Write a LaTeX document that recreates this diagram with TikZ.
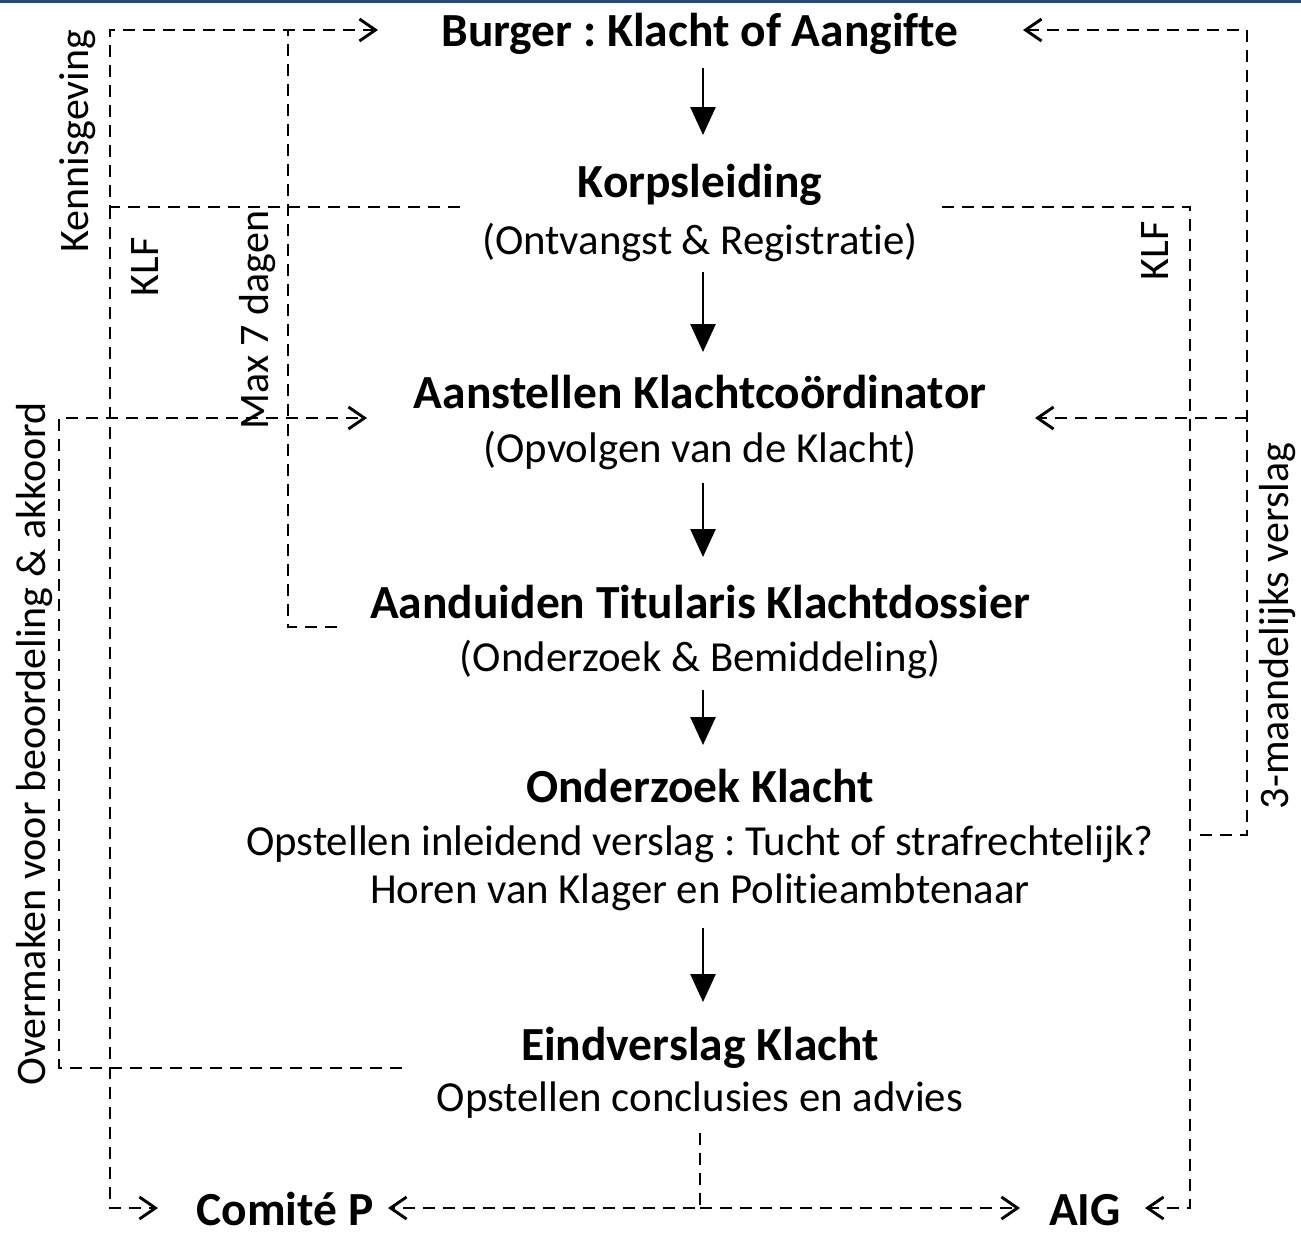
\documentclass[tikz,border=0pt]{standalone}
\usepackage{fontspec}
\setmainfont{Carlito}[Ligatures={NoCommon}]
\usetikzlibrary{arrows.meta}
\definecolor{topbar}{HTML}{2B4A6F}
\frenchspacing

\tikzset{
  title/.style={font=\bfseries\fontsize{47.5}{56}\selectfont, anchor=base, inner sep=0pt},
  sub/.style={font=\fontsize{42.8}{50}\selectfont, anchor=base, inner sep=0pt},
  side/.style={font=\fontsize{42}{50}\selectfont, rotate=90, anchor=base, inner sep=0pt},
  flow/.style={line width=2.7pt, -{Triangle[length=28pt,width=25pt]}},
  link/.style={line width=2.9pt, dash pattern=on 12pt off 8pt},
  tip/.style={-{Straight Barb[length=16pt,width=22pt]}}
}

\begin{document}
\begin{tikzpicture}[x=1pt,y=-1pt]
\useasboundingbox (0,0) rectangle (1301,1232);
\fill[topbar] (0,0) rectangle (1301,3);

% process steps
\node[title] (burger)  at (700,46)   {Burger : Klacht of Aangifte};
\node[title] (korps)   at (700,197)  {Korpsleiding};
\node[sub]   (korpsS)  at (700,254)  {(Ontvangst \& Registratie)};
\node[title] (coord)   at (700,408)  {Aanstellen Klachtcoördinator};
\node[sub]   (coordS)  at (700,462)  {(Opvolgen van de Klacht)};
\node[title] (titul)   at (700,618)  {Aanduiden Titularis Klachtdossier};
\node[sub]   (titulS)  at (700,671)  {(Onderzoek \& Bemiddeling)};
\node[title] (onderz)  at (700,802)  {Onderzoek Klacht};
\node[sub]   (onderzA) at (700,855)  {Opstellen inleidend verslag : Tucht of strafrechtelijk?};
\node[sub]   (onderzB) at (700,903)  {Horen van Klager en Politieambtenaar};
\node[title] (eind)    at (700,1060) {Eindverslag Klacht};
\node[sub]   (eindS)   at (700,1111) {Opstellen conclusies en advies};
\node[title] (comite)  at (285,1225) {Comité P};
\node[title] (aig)     at (1085,1225) {AIG};

% main flow
\draw[flow] ([shift={(3pt,-22pt)}]burger.base)  -- ([shift={(3pt,62pt)}]korps.base);
\draw[flow] ([shift={(3pt,-18pt)}]korpsS.base)  -- ([shift={(3pt,56pt)}]coord.base);
\draw[flow] ([shift={(3pt,-21pt)}]coordS.base)  -- ([shift={(3pt,61pt)}]titul.base);
\draw[flow] ([shift={(3pt,-19pt)}]titulS.base)  -- ([shift={(3pt,57pt)}]onderz.base);
\draw[flow] ([shift={(3pt,-25pt)}]onderzB.base) -- ([shift={(3pt,58pt)}]eind.base);

% ports of the dashed links
\coordinate (burgerW) at ([shift={(-322pt,16pt)}]burger.base);
\coordinate (burgerE) at ([shift={(323pt,16pt)}]burger.base);
\coordinate (korpsW)  at ([shift={(-240pt,-10pt)}]korps.base);
\coordinate (korpsE)  at ([shift={(242pt,-10pt)}]korps.base);
\coordinate (coordW)  at ([shift={(-333pt,-10pt)}]coord.base);
\coordinate (coordE)  at ([shift={(335pt,-10pt)}]coord.base);
\coordinate (titulW)  at ([shift={(-363pt,-9pt)}]titul.base);
\coordinate (onderzE) at ([shift={(500pt,20pt)}]onderzA.base);
\coordinate (eindW)   at ([shift={(-298pt,-8pt)}]eind.base);
\coordinate (eindBot) at ([shift={(0pt,-22pt)}]eindS.base);
\coordinate (comiteW) at ([shift={(-127pt,17pt)}]comite.base);
\coordinate (comiteE) at ([shift={(103pt,17pt)}]comite.base);
\coordinate (aigW)    at ([shift={(-65pt,17pt)}]aig.base);
\coordinate (aigE)    at ([shift={(60pt,17pt)}]aig.base);

% dashed links, left side
\draw[link,tip] (korpsW) -| (110,30) -- (burgerW);
\draw[link] (titulW) -| (288,30);
\draw[link,tip] (110,207) |- (comiteW);
\draw[link,tip] (eindW) -| (59,418) -- (coordW);

% dashed links, right side
\draw[link,tip] (korpsE) -| (1190,1208) -- (aigE);
\draw[link,tip] (onderzE) -| (1247,30) -- (burgerE);
\draw[link,tip] (1247,418) -- (coordE);

% dashed links, bottom
\draw[link,tip] (eindBot) |- (comiteE);
\draw[link,tip] (700,1208) -- (aigW);

% link labels
\node[side] (lblKen)  at (88,141)   {Kennisgeving};
\node[side] (lblKLFl) at (158,267)  {KLF};
\node[side] (lblMax)  at (268,320)  {Max 7 dagen};
\node[side] (lblKLFr) at (1168,251) {KLF};
\node[side] (lblOver) at (45,744)   {Overmaken voor beoordeling \& akkoord};
\node[side] (lbl3m)   at (1288,626) {3-maandelijks verslag};
\end{tikzpicture}
\end{document}
